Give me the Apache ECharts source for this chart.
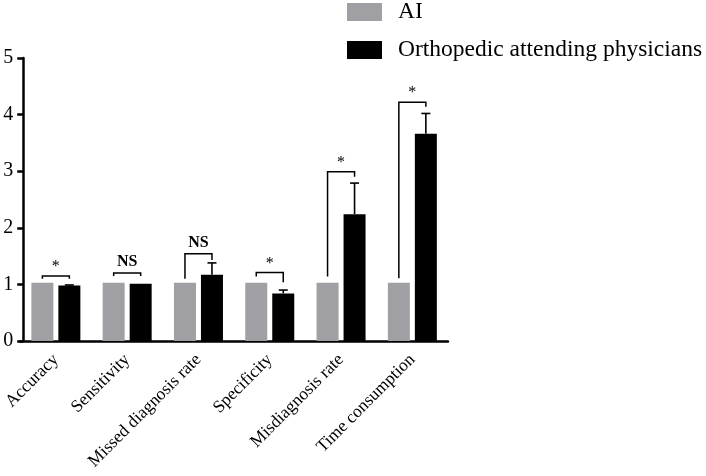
<!DOCTYPE html>
<html>
<head>
<meta charset="utf-8">
<title>AI vs orthopedic attending physicians</title>
<script src="https://cdn.jsdelivr.net/npm/echarts@6/dist/echarts.min.js"></script>
<style>
  html, body { margin: 0; padding: 0; background: #fff; }
  #chart { width: 706px; height: 476px; }
</style>
</head>
<body>
<div id="chart"></div>
<script>
// chart values
var categories = ['Accuracy', 'Sensitivity', 'Missed diagnosis rate', 'Specificity', 'Misdiagnosis rate', 'Time consumption'];
var aiValues = [1.03, 1.03, 1.03, 1.03, 1.03, 1.03];
var physicianValues = [0.98, 1.01, 1.17, 0.84, 2.24, 3.66];
var physicianErrTop = [0.99, 1.01, 1.38, 0.90, 2.79, 4.02];
// significance brackets: top height, where the left / right legs end
var bracketTop = [1.15, 1.20, 1.54, 1.21, 2.99, 4.22];
var bracketLeftEnd = [1.10, 1.15, 1.10, 1.14, 1.14, 1.11];
var bracketRightEnd = [1.10, 1.15, 1.43, 1.04, 2.90, 4.14];
var sigLabels = ['*', 'NS', 'NS', '*', '*', '*'];
var yTicks = [0, 1, 2, 3, 4, 5];

var FONT = '"Liberation Serif", "Times New Roman", serif';
var BAR_W = 22;
var BAR_GAP = 5;
var HALF = (BAR_W + BAR_GAP) / 2; // distance from category centre to each bar centre

var chart = echarts.init(document.getElementById('chart'));

function renderErr(params, api) {
  var i = api.value(0);
  var base = api.coord([i, api.value(1)]);
  var top = api.coord([i, api.value(2)]);
  var x = base[0] + HALF;
  if (top[1] >= base[1] - 0.5) {
    return null;
  }
  return {
    type: 'group',
    children: [
      { type: 'line', shape: { x1: x, y1: base[1], x2: x, y2: top[1] }, style: { stroke: '#000', lineWidth: 1.6 } },
      { type: 'line', shape: { x1: x - 4.5, y1: top[1], x2: x + 4.5, y2: top[1] }, style: { stroke: '#000', lineWidth: 1.6 } }
    ]
  };
}

function renderBracket(params, api) {
  var i = api.value(0);
  var c = api.coord([i, api.value(1)]);
  var l = api.coord([i, api.value(2)]);
  var r = api.coord([i, api.value(3)]);
  var xl = c[0] - HALF, xr = c[0] + HALF;
  var label = sigLabels[params.dataIndex];
  var bold = label === 'NS';
  return {
    type: 'group',
    children: [
      {
        type: 'polyline',
        shape: { points: [[xl, l[1]], [xl, c[1]], [xr, c[1]], [xr, r[1]]] },
        style: { stroke: '#000', lineWidth: 1.5, fill: null }
      },
      {
        type: 'text',
        x: c[0],
        y: c[1] - (bold ? 3 : 1),
        style: {
          text: label,
          fill: '#000',
          font: (bold ? 'bold 16px ' : '16px ') + FONT,
          align: 'center',
          verticalAlign: 'bottom'
        }
      }
    ]
  };
}

var errData = physicianValues.map(function (v, i) { return [i, v, physicianErrTop[i]]; });
var bracketData = bracketTop.map(function (v, i) { return [i, v, bracketLeftEnd[i], bracketRightEnd[i]]; });

option = {
  animation: false,
  textStyle: { fontFamily: FONT },
  legend: {
    data: ['AI', 'Orthopedic attending physicians'],
    orient: 'vertical',
    left: 347,
    top: 0,
    padding: 0,
    itemWidth: 35,
    itemHeight: 18,
    itemGap: 14,
    selectedMode: false,
    icon: 'rect',
    textStyle: { fontFamily: FONT, fontSize: 23.5, color: '#000', padding: [0, 0, 0, 11] }
  },
  grid: {
    left: 20,
    right: 258,
    top: 58,
    bottom: 135,
    containLabel: false
  },
  xAxis: {
    type: 'category',
    data: categories,
    axisLine: { lineStyle: { color: '#000', width: 2.5 } },
    axisTick: { alignWithLabel: true, length: 6, lineStyle: { color: '#000', width: 2.5 } },
    axisLabel: {
      rotate: 45,
      interval: 0,
      margin: 16,
      fontSize: 17.5,
      fontFamily: FONT,
      color: '#000'
    }
  },
  yAxis: {
    type: 'value',
    min: yTicks[0],
    max: yTicks[yTicks.length - 1],
    interval: 1,
    offset: -3,
    axisLine: { show: true, lineStyle: { color: '#000', width: 2.5 } },
    axisTick: { show: true, length: 6, lineStyle: { color: '#000', width: 2.5 } },
    axisLabel: { fontSize: 20, fontFamily: FONT, color: '#000', margin: 10 },
    splitLine: { show: false }
  },
  series: [
    {
      name: 'AI',
      type: 'bar',
      data: aiValues,
      barWidth: BAR_W,
      barGap: (BAR_GAP / BAR_W * 100) + '%',
      itemStyle: { color: '#a0a0a4' }
    },
    {
      name: 'Orthopedic attending physicians',
      type: 'bar',
      data: physicianValues,
      barWidth: BAR_W,
      itemStyle: { color: '#000' }
    },
    {
      name: 'err',
      type: 'custom',
      renderItem: renderErr,
      data: errData,
      z: 5,
      silent: true
    },
    {
      name: 'brackets',
      type: 'custom',
      renderItem: renderBracket,
      data: bracketData,
      z: 6,
      silent: true
    }
  ]
};

chart.setOption(option);
</script>
</body>
</html>
